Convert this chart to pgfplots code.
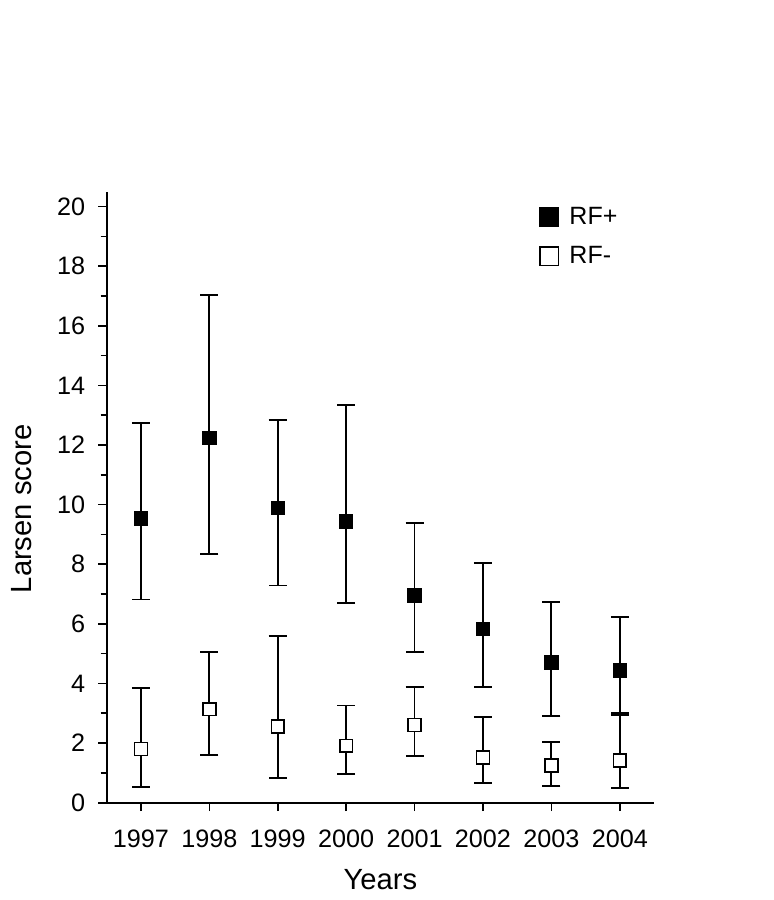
\documentclass[border=0pt]{standalone}
\usepackage{pgfplots}
\pgfplotsset{compat=1.18}
\usepackage{pgfplotstable}
\usepackage{fontspec}
\setmainfont{Liberation Sans}
\pgfplotstableread{
x y lo hi
1997 9.54 6.82 12.74
1998 12.23 8.35 17.04
1999 9.88 7.29 12.85
2000 9.43 6.70 13.33
2001 6.95 5.06 9.38
2002 5.82 3.88 8.05
2003 4.70 2.91 6.73
2004 4.43 3.00 6.22
}\rfplus
\pgfplotstableread{
x y lo hi
1997 1.80 0.54 3.84
1998 3.14 1.60 5.06
1999 2.55 0.82 5.59
2000 1.91 0.95 3.26
2001 2.61 1.57 3.88
2002 1.51 0.66 2.87
2003 1.25 0.56 2.05
2004 1.41 0.48 2.94
}\rfminus
\begin{document}
\begin{tikzpicture}
\useasboundingbox (0,0) rectangle (387pt,450pt);
\begin{axis}[
  at={(53.35pt,48.65pt)}, anchor=south west,
  scale only axis, width=273.65pt, height=305.5pt,
  xmin=1996.5, xmax=2004.5, ymin=0, ymax=20.5,
  axis lines*=left,
  axis line style={line width=1pt, black},
  xtick={1997,1998,1999,2000,2001,2002,2003,2004},
  ytick={0,2,...,20},
  minor ytick={1,3,...,19},
  tick align=outside,
  major tick length=4.25pt, minor tick length=3pt,
  tick style={line width=0.8pt, black},
  /pgf/number format/assume math mode=true,
  ticklabel style={font=\fontsize{12.6}{15}\selectfont},
  xticklabel style={/pgf/number format/set thousands separator={}, yshift=-6pt},
  yticklabel style={xshift=-3pt},
  xlabel={Years}, ylabel={Larsen score},
  label style={font=\fontsize{14.6}{17}\selectfont},
  xlabel style={at={(rel axis cs:0.5,-0.1265)}, anchor=center},
  ylabel style={at={(rel axis cs:-0.155,0.481)}, anchor=center},
  legend style={at={(rel axis cs:0.79,0.982)}, anchor=north west, draw=none, fill=none,
    inner sep=0pt, font=\fontsize{12.5}{15}\selectfont, row sep=5.5pt,
    nodes={inner xsep=5pt}},
  legend cell align=left,
]
\addplot[only marks, mark=square*, mark size=3.2pt,
  mark options={fill=black, draw=black, line width=0.8pt},
  legend image code/.code={\draw[fill=black, line width=0.8pt] (0pt,-4.6pt) rectangle (9.2pt,4.6pt);},
  error bars/.cd, y dir=both, y explicit,
  error bar style={line width=0.9pt, black},
  error mark options={rotate=90, line width=0.9pt, mark size=4.5pt, black}]
  table[x=x, y=y, y error plus expr=\thisrow{hi}-\thisrow{y}, y error minus expr=\thisrow{y}-\thisrow{lo}] {\rfplus};
\addlegendentry{RF+}
\addplot[only marks, mark=square*, mark size=3.2pt,
  mark options={fill=white, draw=black, line width=0.8pt},
  legend image code/.code={\draw[fill=white, line width=0.8pt] (0pt,-4.6pt) rectangle (9.2pt,4.6pt);},
  error bars/.cd, y dir=both, y explicit,
  error bar style={line width=0.9pt, black},
  error mark options={rotate=90, line width=0.9pt, mark size=4.5pt, black}]
  table[x=x, y=y, y error plus expr=\thisrow{hi}-\thisrow{y}, y error minus expr=\thisrow{y}-\thisrow{lo}] {\rfminus};
\addlegendentry{RF-}
\end{axis}
\end{tikzpicture}
\end{document}
